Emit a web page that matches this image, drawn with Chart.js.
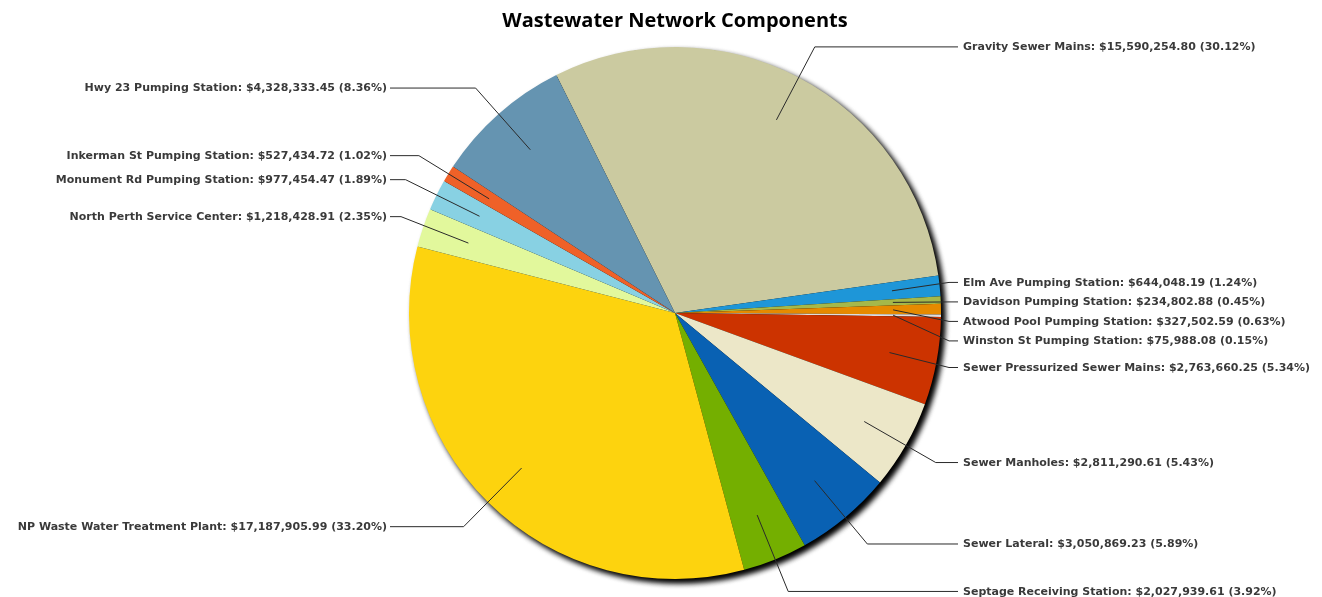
<!DOCTYPE html>
<html>
<head>
<meta charset="utf-8">
<script src="https://cdn.jsdelivr.net/npm/chart.js@4.4.1/dist/chart.umd.min.js"></script>
<style>
html,body{margin:0;padding:0;background:#fff;}
#wrap{width:1322px;height:597px;position:relative;}
</style>
</head>
<body>
<div id="wrap"><canvas id="c" width="1322" height="597"></canvas></div>
<script>
const categories = [
  "Gravity Sewer Mains",
  "Elm Ave Pumping Station",
  "Davidson Pumping Station",
  "Atwood Pool Pumping Station",
  "Winston St Pumping Station",
  "Sewer Pressurized Sewer Mains",
  "Sewer Manholes",
  "Sewer Lateral",
  "Septage Receiving Station",
  "NP Waste Water Treatment Plant",
  "North Perth Service Center",
  "Monument Rd Pumping Station",
  "Inkerman St Pumping Station",
  "Hwy 23 Pumping Station"
];
const values = [
  15590254.80, 644048.19, 234802.88, 327502.59, 75988.08,
  2763660.25, 2811290.61, 3050869.23, 2027939.61, 17187905.99,
  1218428.91, 977454.47, 527434.72, 4328333.45
];
const percents = [
  30.12, 1.24, 0.45, 0.63, 0.15, 5.34, 5.43, 5.89, 3.92, 33.20,
  2.35, 1.89, 1.02, 8.36
];
const colors = [
  "#CBCAA0", "#1E96D8", "#A5B84A", "#E68A00", "#DEDEDE",
  "#CC3300", "#ECE7C8", "#0961B3", "#74AF00", "#FDD30E",
  "#E2F89C", "#88D1E3", "#EF6128", "#6594B1"
];

function fmtMoney(v){
  return "$" + v.toLocaleString("en-US",{minimumFractionDigits:2,maximumFractionDigits:2});
}

const shadowPlugin = {
  id: "pieShadow",
  beforeDatasetsDraw(chart){
    const arc = chart.getDatasetMeta(0).data[0];
    if(!arc) return;
    const ctx = chart.ctx;
    ctx.save();
    ctx.shadowColor = "rgba(0,0,0,1)";
    ctx.shadowBlur = 6;
    ctx.shadowOffsetX = 4;
    ctx.shadowOffsetY = 4;
    ctx.fillStyle = "#000";
    for(let k=0;k<2;k++){
      ctx.beginPath();
      ctx.arc(arc.x, arc.y, arc.outerRadius - 1, 0, Math.PI*2);
      ctx.fill();
    }
    ctx.restore();
  }
};

const labelPlugin = {
  id: "outLabels",
  afterDatasetsDraw(chart){
    const meta = chart.getDatasetMeta(0);
    const ctx = chart.ctx;
    const items = meta.data.map((arc,i)=>{
      const mid = (arc.startAngle + arc.endAngle)/2;
      const r = arc.outerRadius;
      const c = Math.cos(mid), s = Math.sin(mid);
      return {
        i, right: c >= 0,
        ix: arc.x + 0.82*r*c, iy: arc.y + 0.82*r*s,
        nx: arc.x + 1.13*r*c, ny: arc.y + 1.13*r*s,
        cx: arc.x, r
      };
    });
    const gap = 19.5;
    ["R","L"].forEach(side=>{
      const list = items.filter(it => (side==="R") === it.right).sort((a,b)=>a.ny-b.ny);
      let prev = -1e9;
      list.forEach(it=>{
        it.ly = Math.max(it.ny, prev + gap);
        prev = it.ly;
      });
    });
    ctx.save();
    ctx.font = "bold 11px 'DejaVu Sans', Verdana, sans-serif";
    ctx.textBaseline = "middle";
    ctx.lineWidth = 1;
    ctx.strokeStyle = "#2a2a2a";
    ctx.fillStyle = "#3a3a3a";
    items.forEach(it=>{
      const txt = categories[it.i] + ": " + fmtMoney(values[it.i]) + " (" + percents[it.i].toFixed(2) + "%)";
      let tx, ex, endX;
      if(it.right){
        tx = it.cx + it.r + 22;
        ex = Math.min(it.nx, tx - 14);
        endX = tx - 5;
      } else {
        tx = it.cx - it.r - 22;
        ex = Math.max(it.nx, tx + 14);
        endX = tx + 3;
      }
      ctx.beginPath();
      ctx.moveTo(it.ix, it.iy);
      ctx.lineTo(ex, it.ly);
      ctx.lineTo(endX, it.ly);
      ctx.stroke();
      ctx.textAlign = it.right ? "left" : "right";
      ctx.fillText(txt, tx, it.ly + 0.5);
    });
    ctx.restore();
  }
};

new Chart(document.getElementById("c"), {
  type: "pie",
  data: {
    labels: categories,
    datasets: [{
      data: values,
      backgroundColor: colors,
      borderWidth: 0,
      hoverOffset: 0
    }]
  },
  options: {
    responsive: false,
    animation: false,
    rotation: -26.5,
    layout: { padding: { top: 0, bottom: 18, left: 28, right: 0 } },
    plugins: {
      legend: { display: false },
      tooltip: { enabled: false },
      title: {
        display: true,
        text: "Wastewater Network Components",
        color: "#000",
        font: { family: "'Open Sans', sans-serif", size: 20, weight: "bold" },
        padding: { top: 9, bottom: 14 }
      }
    }
  },
  plugins: [shadowPlugin, labelPlugin]
});
</script>
</body>
</html>
